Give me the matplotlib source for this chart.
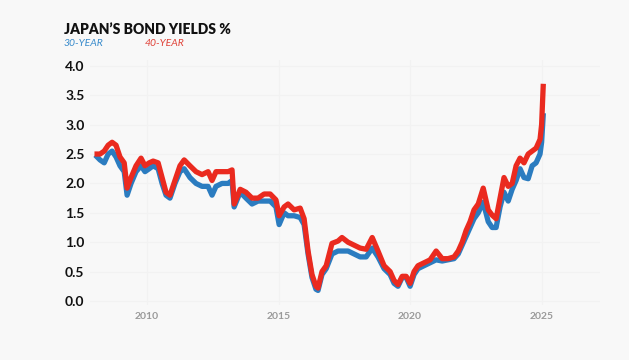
#!/usr/bin/env python3

import matplotlib
import matplotlib.pyplot as plt

matplotlib.use("Agg")

# decimal years
years = [
    2008.10, 2008.21, 2008.37, 2008.52, 2008.67, 2008.82, 2008.97, 2009.13,
    2009.24, 2009.39, 2009.58, 2009.77, 2009.92, 2010.08, 2010.23, 2010.42,
    2010.57, 2010.72, 2010.87, 2011.06, 2011.25, 2011.41, 2011.63, 2011.86,
    2012.09, 2012.32, 2012.47, 2012.62, 2012.85, 2013.08, 2013.23, 2013.31,
    2013.54, 2013.76, 2013.99, 2014.22, 2014.45, 2014.68, 2014.90, 2015.02,
    2015.21, 2015.36, 2015.59, 2015.82, 2015.97, 2016.12, 2016.27, 2016.42,
    2016.50, 2016.65, 2016.81, 2017.03, 2017.26, 2017.41, 2017.64, 2017.87,
    2018.10, 2018.33, 2018.56, 2018.78, 2019.01, 2019.24, 2019.39, 2019.54,
    2019.70, 2019.85, 2020.00, 2020.15, 2020.30, 2020.53, 2020.76, 2020.99,
    2021.22, 2021.44, 2021.67, 2021.83, 2021.98, 2022.13, 2022.28, 2022.43,
    2022.59, 2022.78, 2022.97, 2023.12, 2023.27, 2023.42, 2023.57, 2023.73,
    2023.88, 2024.03, 2024.18, 2024.33, 2024.49, 2024.64, 2024.79, 2024.94,
    2025.00, 2025.06,
]

yield_30y = [
    2.45, 2.40, 2.35, 2.50, 2.55, 2.45, 2.30, 2.20,
    1.80, 2.00, 2.20, 2.30, 2.20, 2.25, 2.30, 2.25,
    2.00, 1.80, 1.75, 2.00, 2.20, 2.25, 2.10, 2.00,
    1.95, 1.95, 1.80, 1.95, 2.00, 2.00, 2.05, 1.60,
    1.85, 1.75, 1.65, 1.70, 1.70, 1.70, 1.60, 1.30,
    1.50, 1.45, 1.45, 1.42, 1.30, 0.80, 0.40, 0.20,
    0.18, 0.45, 0.55, 0.80, 0.85, 0.85, 0.85, 0.80,
    0.75, 0.75, 0.90, 0.75, 0.55, 0.45, 0.30, 0.25,
    0.40, 0.40, 0.25, 0.45, 0.55, 0.60, 0.65, 0.70,
    0.68, 0.70, 0.72, 0.80, 0.95, 1.10, 1.25, 1.40,
    1.50, 1.68, 1.35, 1.25, 1.25, 1.60, 1.85, 1.70,
    1.90, 2.05, 2.25, 2.10, 2.08, 2.30, 2.35, 2.50,
    2.70, 3.15,
]

yield_40y = [
    2.50, 2.50, 2.55, 2.65, 2.70, 2.65, 2.45, 2.35,
    1.92, 2.10, 2.30, 2.43, 2.30, 2.35, 2.38, 2.35,
    2.10, 1.85, 1.80, 2.05, 2.30, 2.40, 2.30, 2.20,
    2.15, 2.20, 2.05, 2.20, 2.20, 2.20, 2.23, 1.65,
    1.90, 1.85, 1.75, 1.75, 1.82, 1.82, 1.72, 1.45,
    1.60, 1.65, 1.55, 1.58, 1.40, 0.85, 0.45, 0.25,
    0.22, 0.50, 0.60, 0.98, 1.02, 1.08, 1.00, 0.95,
    0.90, 0.88, 1.08, 0.85, 0.60, 0.50, 0.35, 0.28,
    0.42, 0.42, 0.30, 0.50, 0.60, 0.65, 0.70, 0.85,
    0.72, 0.72, 0.75, 0.85, 1.00, 1.20, 1.35, 1.55,
    1.65, 1.92, 1.55, 1.46, 1.40, 1.75, 2.10, 1.95,
    2.00, 2.30, 2.43, 2.35, 2.50, 2.55, 2.60, 2.75,
    3.00, 3.65,
]

y_ticks = [0.0, 0.5, 1.0, 1.5, 2.0, 2.5, 3.0, 3.5, 4.0]
x_ticks = [2010, 2015, 2020, 2025]

BLUE = "#2b7cc0"
RED = "#ea2a1f"
BG = "#f8f8f8"

plt.rcParams["font.family"] = ["Lato", "DejaVu Sans"]

fig = plt.figure(figsize=(6.29, 3.6), dpi=100, facecolor=BG)
ax = fig.add_axes([0.1431, 0.1528, 0.8108, 0.6806])
ax.set_facecolor(BG)

ax.plot(years, yield_30y, color=BLUE, lw=3.8, solid_joinstyle="round", zorder=3)
ax.plot(years, yield_40y, color=RED, lw=3.8, solid_joinstyle="round", zorder=4)

ax.set_xlim(2007.83, 2027.22)
ax.set_ylim(-0.068, 4.10)
ax.set_yticks(y_ticks)
ax.set_yticklabels([f"{v:.1f}" for v in y_ticks], fontsize=10, fontweight="bold",
                   color="#111111")
ax.set_xticks(x_ticks)
ax.set_xticklabels([str(v) for v in x_ticks], fontsize=7.5, fontweight="bold",
                   color="#9a9a9a")
ax.tick_params(axis="both", length=0)
ax.tick_params(axis="y", pad=4)
ax.tick_params(axis="x", pad=5)
for side in ax.spines.values():
    side.set_visible(False)
ax.grid(True, color="#f2f2f2", lw=0.8, zorder=0)

fig.text(64 / 629, 1 - 30 / 360, "JAPAN\u2019S BOND YIELDS %", fontsize=10,
         fontweight="heavy", color="#111111", va="center", ha="left")
fig.text(64 / 629, 1 - 43 / 360, "30-YEAR", fontsize=7.5, fontstyle="italic",
         color="#3a8ccc", va="center", ha="left")
fig.text(145 / 629, 1 - 43 / 360, "40-YEAR", fontsize=7.5, fontstyle="italic",
         color="#e0443a", va="center", ha="left")

fig.savefig("out.png", dpi=100, facecolor=BG)
